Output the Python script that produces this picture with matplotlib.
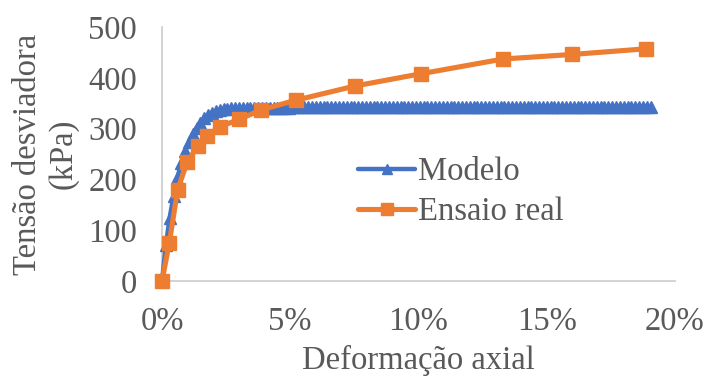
import matplotlib
matplotlib.use("Agg")
import matplotlib.pyplot as plt
from matplotlib.ticker import FuncFormatter

# ---- data ----
model_strain = [
    0.00, 0.15, 0.30, 0.45, 0.60, 0.75, 0.90, 1.05, 1.20, 1.35,
    1.50, 1.65, 1.80, 1.95, 2.10, 2.25, 2.40, 2.55, 2.70, 2.85,
    3.00, 3.15, 3.30, 3.45, 3.60, 3.75, 3.90, 4.05, 4.20, 4.35,
    4.50, 4.65, 4.80, 4.95, 5.10, 5.25, 5.40, 5.55, 5.70, 5.85,
    6.00, 6.15, 6.30, 6.45, 6.60, 6.75, 6.90, 7.05, 7.20, 7.35,
    7.50, 7.65, 7.80, 7.95, 8.10, 8.25, 8.40, 8.55, 8.70, 8.85,
    9.00, 9.15, 9.30, 9.45, 9.60, 9.75, 9.90, 10.05, 10.20, 10.35,
    10.50, 10.65, 10.80, 10.95, 11.10, 11.25, 11.40, 11.55, 11.70, 11.85,
    12.00, 12.15, 12.30, 12.45, 12.60, 12.75, 12.90, 13.05, 13.20, 13.35,
    13.50, 13.65, 13.80, 13.95, 14.10, 14.25, 14.40, 14.55, 14.70, 14.85,
    15.00, 15.15, 15.30, 15.45, 15.60, 15.75, 15.90, 16.05, 16.20, 16.35,
    16.50, 16.65, 16.80, 16.95, 17.10, 17.25, 17.40, 17.55, 17.70, 17.85,
    18.00, 18.15, 18.30, 18.45, 18.60, 18.75, 18.90, 19.05,
]
model_stress = [
    0, 70, 125, 168, 203, 232, 255, 274, 290, 302,
    312, 320, 326, 331, 334, 336, 338, 339, 340, 340,
    341, 341, 341, 341, 341, 341, 341, 341, 341, 341,
    341, 341, 341, 341, 342, 342, 342, 342, 342, 342,
    342, 342, 342, 342, 342, 342, 342, 342, 342, 342,
    342, 342, 342, 342, 342, 342, 342, 342, 342, 342,
    342, 342, 342, 342, 342, 342, 342, 343, 343, 343,
    343, 343, 343, 343, 343, 343, 343, 343, 343, 343,
    343, 343, 343, 343, 343, 343, 343, 343, 343, 343,
    343, 343, 343, 343, 343, 343, 343, 343, 343, 343,
    343, 343, 343, 343, 343, 343, 343, 343, 343, 343,
    343, 343, 343, 343, 343, 343, 343, 343, 343, 343,
    343, 343, 343, 343, 343, 343, 343, 343,
]
test_strain = [0.00, 0.28, 0.61, 0.98, 1.39, 1.76, 2.27, 3.00, 3.87, 5.23,
               7.54, 10.10, 13.30, 16.00, 18.85]
test_stress = [0, 74, 180, 234, 265, 286, 304, 318, 337, 356,
               384, 408, 437, 446, 457]

series_labels = ["Modelo", "Ensaio real"]
x_label = "Deformação axial"
y_label = "Tensão desviadora\n(kPa)"
x_ticks = [0, 5, 10, 15, 20]
y_ticks = [0, 100, 200, 300, 400, 500]

# ---- style ----
TXT = "#595959"
BLUE = "#4472C4"
ORANGE = "#ED7D31"
FS = 23.5
plt.rcParams["font.family"] = ["Liberation Serif", "DejaVu Serif"]

fig = plt.figure(figsize=(7.04, 3.78), dpi=100)
ax = fig.add_axes([162 / 704, 1 - 281 / 378, (675 - 162) / 704, (281 - 27) / 378])

ax.plot(model_strain, model_stress, color=BLUE, lw=3.2, marker="^", ms=8,
        label=series_labels[0], clip_on=False, zorder=3,
        solid_capstyle="round", solid_joinstyle="round")
ax.plot(test_strain, test_stress, color=ORANGE, lw=3.7, marker="s", ms=10,
        label=series_labels[1], clip_on=False, zorder=4,
        solid_capstyle="round", solid_joinstyle="round")

ax.set_xlim(0, 20)
ax.set_ylim(0, 500)
ax.set_xticks(x_ticks)
ax.set_yticks(y_ticks)
ax.xaxis.set_major_formatter(FuncFormatter(lambda v, p: f"{v:.0f}%"))

for s in ["top", "right"]:
    ax.spines[s].set_visible(False)
for s in ["left", "bottom"]:
    ax.spines[s].set_color("#D0D0D0")
    ax.spines[s].set_linewidth(1.3)
ax.spines["left"].set_zorder(1)

ax.tick_params(axis="both", length=0, labelsize=FS, colors=TXT)
ax.tick_params(axis="y", pad=18)
ax.tick_params(axis="x", pad=18)

ax.set_xlabel(x_label, fontsize=FS, color=TXT, labelpad=6)
ax.set_ylabel(y_label, fontsize=FS, color=TXT, labelpad=7, linespacing=1.2)

leg = ax.legend(loc="center left", bbox_to_anchor=(0.382, 0.35), frameon=False,
                fontsize=FS, handlelength=1.75, handletextpad=0.1,
                borderpad=0, borderaxespad=0, labelspacing=0.3, markerscale=0.9)
for t in leg.get_texts():
    t.set_color(TXT)

fig.savefig("out.png", dpi=100)
